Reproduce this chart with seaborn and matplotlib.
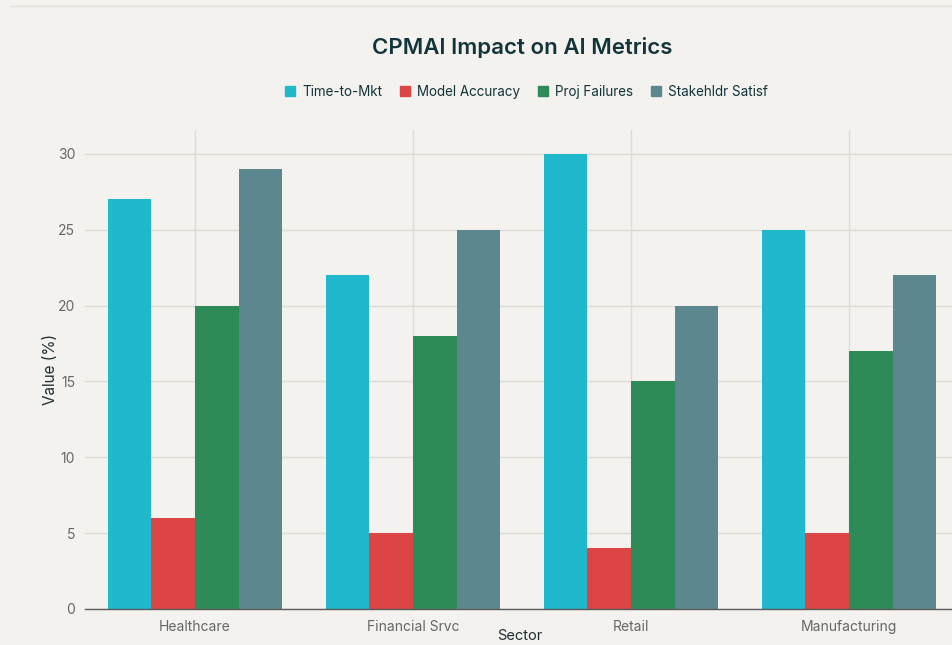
import matplotlib
matplotlib.use("Agg")
import matplotlib.pyplot as plt
import pandas as pd
import seaborn as sns

# data
sectors = ["Healthcare", "Financial Srvc", "Retail", "Manufacturing"]
metrics = ["Time-to-Mkt", "Model Accuracy", "Proj Failures", "Stakehldr Satisf"]
time_to_mkt = [27, 22, 30, 25]
model_accuracy = [6, 5, 4, 5]
proj_failures = [20, 18, 15, 17]
stakeholder_satisf = [29, 25, 20, 22]
colors = ["#1FB8CD", "#DB4545", "#2E8B57", "#5D878F"]

# long-form table for seaborn
rows = []
for name, vals in zip(metrics, [time_to_mkt, model_accuracy, proj_failures, stakeholder_satisf]):
    for s, v in zip(sectors, vals):
        rows.append({"Sector": s, "Metric": name, "Value": v})
df = pd.DataFrame(rows)

bg = "#F3F2EE"
sns.set_theme(style="whitegrid")
plt.rcParams["font.family"] = ["Inter", "DejaVu Sans"]

fig = plt.figure(figsize=(9.53, 6.45), dpi=100, facecolor=bg)
ax = fig.add_axes([85 / 953, 1 - 609 / 645, 873 / 953, 479 / 645])
ax.set_facecolor(bg)

sns.barplot(data=df, x="Sector", y="Value", hue="Metric", order=sectors,
            hue_order=metrics, palette=colors, width=0.8, saturation=1,
            linewidth=0, ax=ax, legend=False)

ax.set_ylim(0, 31.58)
ax.set_xlim(-0.505, 3.5)
ax.set_yticks([0, 5, 10, 15, 20, 25, 30])
ax.grid(True, color="#DCDCD7", linewidth=1)
ax.set_axisbelow(True)
for side in ["left", "right", "top"]:
    ax.spines[side].set_visible(False)
ax.spines["bottom"].set_color("#5A5A5A")
ax.spines["bottom"].set_linewidth(1)
ax.tick_params(axis="x", length=0, labelsize=10, labelcolor="#666666", pad=8)
ax.tick_params(axis="y", length=0, labelsize=10, labelcolor="#666666", pad=7)

ax.set_xlabel("Sector", fontsize=10.5, color="#1F2E33")
ax.set_ylabel("Value (%)", fontsize=11, color="#1F2E33")
ax.xaxis.set_label_coords(0.498, -0.041)
ax.yaxis.set_label_coords(-0.031, 0.5)

fig.text(0.548, 1 - 47 / 645, "CPMAI Impact on AI Metrics", ha="center", va="center",
         fontsize=16, fontweight="semibold", color="#13343B")

handles = [plt.Line2D([], [], marker="s", linestyle="", markersize=7, color=c) for c in colors]
fig.legend(handles, metrics, loc="center", bbox_to_anchor=(0.551, 1 - 92 / 645), ncol=4,
           frameon=False, fontsize=9.7, labelcolor="#13343B", handletextpad=0.3,
           columnspacing=1.1, handlelength=1.2)

# thin panel edge at the top
fig.add_artist(plt.Line2D([10 / 953, 1], [1 - 6 / 645, 1 - 6 / 645], color="#E2E1DC",
                          linewidth=1, transform=fig.transFigure))

fig.savefig("out.png", dpi=100, facecolor=bg)
